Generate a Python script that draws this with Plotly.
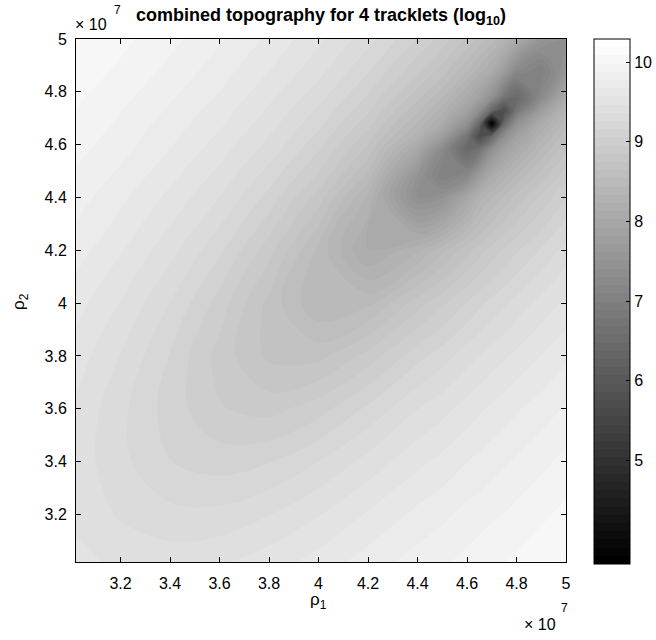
import plotly.graph_objects as go

# rho_1 and rho_2 grid positions (units of 1e7)
rho1 = [3.02, 3.2, 3.4, 3.6, 3.8, 4.0, 4.2, 4.4, 4.5, 4.6, 4.65, 4.7, 4.75, 4.8, 4.9, 5.0]
rho2 = [3.02, 3.2, 3.4, 3.6, 3.8, 4.0, 4.2, 4.4, 4.48, 4.58, 4.63, 4.68, 4.73, 4.78, 4.88, 5.0]

# log10 of the combined topography, rows follow rho2, columns follow rho1
log_topo = [
    [9.50, 9.44, 9.42, 9.45, 9.52, 9.61, 9.72, 9.82, 9.86, 9.91, 9.94, 9.96, 9.98, 10.00, 10.05, 10.09],
    [9.44, 9.35, 9.29, 9.29, 9.36, 9.46, 9.58, 9.70, 9.75, 9.81, 9.83, 9.86, 9.88, 9.91, 9.96, 10.01],
    [9.42, 9.29, 9.16, 9.11, 9.15, 9.26, 9.40, 9.54, 9.60, 9.67, 9.70, 9.73, 9.76, 9.79, 9.85, 9.91],
    [9.45, 9.29, 9.11, 8.96, 8.91, 9.01, 9.18, 9.36, 9.43, 9.51, 9.55, 9.59, 9.62, 9.66, 9.72, 9.79],
    [9.52, 9.36, 9.15, 8.91, 8.72, 8.71, 8.89, 9.12, 9.21, 9.32, 9.36, 9.41, 9.45, 9.49, 9.57, 9.65],
    [9.61, 9.46, 9.26, 9.01, 8.71, 8.45, 8.51, 8.80, 8.93, 9.06, 9.13, 9.19, 9.24, 9.30, 9.40, 9.49],
    [9.72, 9.58, 9.40, 9.18, 8.89, 8.51, 8.11, 8.31, 8.51, 8.71, 8.80, 8.89, 8.97, 9.04, 9.17, 9.30],
    [9.82, 9.70, 9.54, 9.36, 9.12, 8.80, 8.31, 7.40, 7.50, 8.00, 8.28, 8.43, 8.56, 8.68, 8.87, 9.05],
    [9.86, 9.75, 9.60, 9.43, 9.21, 8.93, 8.51, 7.50, 7.00, 7.25, 7.75, 8.11, 8.29, 8.45, 8.70, 8.91],
    [9.91, 9.81, 9.67, 9.51, 9.32, 9.06, 8.71, 8.00, 7.25, 6.45, 6.75, 7.45, 7.85, 8.09, 8.45, 8.72],
    [9.94, 9.83, 9.70, 9.55, 9.36, 9.13, 8.80, 8.28, 7.75, 6.75, 5.70, 6.45, 7.40, 7.85, 8.29, 8.61],
    [9.96, 9.86, 9.73, 9.59, 9.41, 9.19, 8.89, 8.43, 8.11, 7.45, 6.45, 3.70, 6.45, 7.45, 8.11, 8.49],
    [9.98, 9.88, 9.76, 9.62, 9.45, 9.24, 8.97, 8.56, 8.29, 7.85, 7.40, 6.45, 5.70, 6.75, 7.75, 8.35],
    [10.00, 9.91, 9.79, 9.66, 9.49, 9.30, 9.04, 8.68, 8.45, 8.09, 7.85, 7.45, 6.75, 6.45, 7.25, 8.10],
    [10.05, 9.96, 9.85, 9.72, 9.57, 9.40, 9.17, 8.87, 8.70, 8.45, 8.29, 8.11, 7.75, 7.25, 7.00, 7.55],
    [10.09, 10.01, 9.91, 9.79, 9.65, 9.49, 9.30, 9.05, 8.91, 8.72, 8.61, 8.49, 8.35, 8.10, 7.55, 7.40],
]

x_ticks = [3.2, 3.4, 3.6, 3.8, 4.0, 4.2, 4.4, 4.6, 4.8, 5.0]
y_ticks = [3.2, 3.4, 3.6, 3.8, 4.0, 4.2, 4.4, 4.6, 4.8, 5.0]
cbar_ticks = [5, 6, 7, 8, 9, 10]
cmin, cmax = 3.7, 10.29

# MATLAB-like 64-level gray colormap
levels = 64
gray_scale = []
for k in range(levels):
    g = round(k * 255 / (levels - 1))
    col = f"rgb({g},{g},{g})"
    gray_scale.append([k / levels, col])
    gray_scale.append([(k + 1) / levels, col])

FONT = "Liberation Sans, Arial, Helvetica, sans-serif"
TICK_SIZE = 16

# plot area in pixels
L, R, T, B = 76, 566, 39, 562
W, H = R - L, B - T
# colorbar box in pixels
CB_L, CB_T, CB_LEN, CB_W = 594, 39, 525, 36

fig = go.Figure()
fig.add_trace(go.Contour(
    x=rho1, y=rho2, z=log_topo,
    autocontour=False,
    contours=dict(coloring="fill", start=cmin, end=cmax, size=(cmax - cmin) / levels, showlines=False),
    line=dict(width=0, smoothing=1.0),
    colorscale=gray_scale, zmin=cmin, zmax=cmax,
    colorbar=dict(
        x=(CB_L - L) / W, xanchor="left", xpad=0,
        y=(B - CB_T) / H, yanchor="top", ypad=0, lenmode="pixels", len=CB_LEN,
        thickness=CB_W, outlinewidth=1, outlinecolor="black",
        tickvals=cbar_ticks, ticks="inside", ticklen=4, tickcolor="black",
        tickfont=dict(family=FONT, size=TICK_SIZE, color="black"),
    ),
    hoverinfo="skip",
))

# mirrored colorbar ticks on the left edge of the bar (MATLAB style)
for v in cbar_ticks:
    py = CB_T + (cmax - v) / (cmax - cmin) * CB_LEN
    fig.add_shape(
        type="line", xref="paper", yref="paper",
        x0=(CB_L - L) / W, x1=(CB_L + 4 - L) / W,
        y0=(B - py) / H, y1=(B - py) / H,
        line=dict(color="black", width=1),
    )

axis_common = dict(
    showline=True, linecolor="black", linewidth=1, mirror="ticks",
    ticks="inside", ticklen=5, tickcolor="black", tickwidth=1,
    showgrid=False, zeroline=False,
    tickfont=dict(family=FONT, size=TICK_SIZE, color="black"),
)

fig.update_layout(
    width=656, height=640,
    margin=dict(l=L, r=656 - R, t=T, b=640 - B, autoexpand=False),
    paper_bgcolor="white", plot_bgcolor="white",
    xaxis=dict(range=[3.02, 5.0], tickvals=x_ticks, ticklabelstandoff=7, **axis_common),
    yaxis=dict(range=[3.02, 5.0], tickvals=y_ticks, ticklabelstandoff=5, **axis_common),
    title=dict(
        text="<b>combined topography for 4 tracklets (log<sub>10</sub>)</b>",
        x=0.5, xref="paper", xanchor="center",
        y=1 - 15 / 640, yref="container", yanchor="middle",
        font=dict(family=FONT, size=18, color="black"),
    ),
    showlegend=False,
)

# texts placed by pixel position -> paper coordinates
texts = [
    ("× 10", 91, 24, 16, 0),
    ("7", 117, 10, 12, 0),
    ("× 10", 540, 624, 16, 0),
    ("7", 564, 608, 12, 0),
    ("ρ<sub>1</sub>", 318, 601, 17, 0),
    ("ρ<sub>2</sub>", 20, 302, 17, -90),
]
for txt, px, py, sz, ang in texts:
    fig.add_annotation(
        text=txt, x=(px - L) / W, y=(B - py) / H,
        xref="paper", yref="paper", showarrow=False, textangle=ang,
        xanchor="center", yanchor="middle",
        font=dict(family=FONT, size=sz, color="black"),
    )

fig.write_html("out.html", config={"displayModeBar": False},
               post_script="document.body.style.margin='0px';")
